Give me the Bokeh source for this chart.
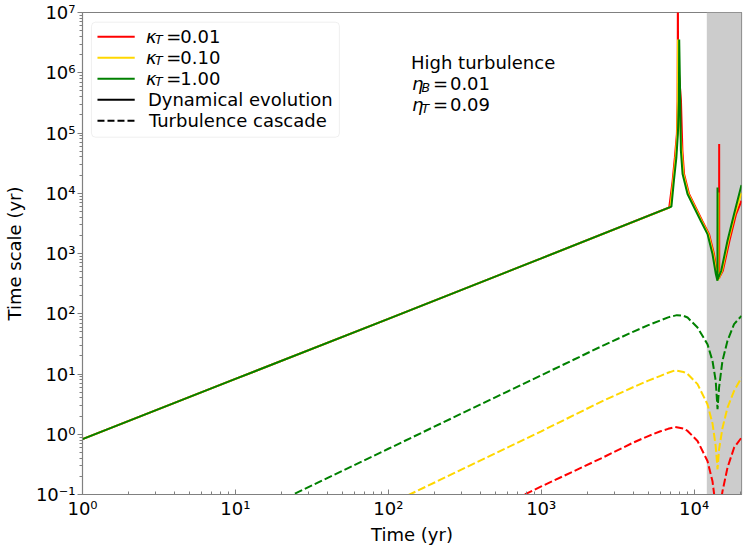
from math import log10
from bokeh.plotting import figure
from bokeh.models import BoxAnnotation, FixedTicker
from bokeh.core.properties import value
from bokeh.embed import file_html
from bokeh.resources import INLINE

# ---------------- data ----------------
kappa_labels = ["0.01", "0.10", "1.00"]
colors = ["red", "gold", "green"]

# Dynamical evolution time scale (solid lines)
t_dyn_red = [1, 10, 100, 1000, 6870, 7230, 7480, 7710, 7790, 7815, 7825, 7840, 7950,
             8200, 8380, 8590, 9260, 10230, 11310, 12510, 13480, 14180, 14500, 14560,
             14575, 14590, 15400, 17020, 18800, 20400]
dyn_red = [0.83, 8.3, 82, 830, 5800, 16100, 39300, 96200, 3.4e5, 3e6, 1e8, 3e6, 1e6,
           3.44e5, 50800, 20800, 9700, 5810, 3470, 2100, 977, 455, 420, 380,
           65600, 400, 516, 1625, 4510, 7520]

t_dyn_gold = [1, 10, 100, 1000, 7000, 7300, 7560, 7760, 7810, 7830, 7880, 8290, 8500,
              9160, 10120, 11190, 12380, 13340, 14030, 14380, 14390, 14400, 15200,
              16720, 18460, 20400]
dyn_gold = [0.83, 8.3, 82, 830, 5900, 16100, 38900, 97800, 3.44e5, 3.55e6, 3.44e5, 50800,
            20800, 9700, 5810, 3470, 2100, 977, 455, 360, 10300, 380, 516,
            1625, 4510, 10200]

t_dyn_green = [1, 10, 100, 1000, 7100, 7370, 7650, 7830, 7945, 7985, 8110, 8190, 8400,
               9050, 10000, 11060, 12230, 13180, 13860, 14200, 14215, 14230, 15030,
               16520, 18240, 20400]
dyn_green = [0.83, 8.3, 82, 830, 6000, 16100, 38900, 97800, 3.44e5, 3.55e6, 3.44e5, 50800,
             20800, 9700, 5810, 3470, 2100, 977, 455, 352, 12500, 370, 516,
             1625, 4510, 13700]

# Turbulence cascade time scale (dashed lines)
t_turb_red = [500, 1000, 2512, 3981, 5012, 6026, 6761, 7499, 8511, 9057, 10520, 12220,
              13180, 13840, 14220, 14550, 15310, 16520, 18240, 20400]
turb_red = [0.058, 0.136, 0.407, 0.724, 0.933, 1.12, 1.23, 1.32, 1.245, 1.135, 0.774, 0.36,
            0.166, 0.063, 0.025, 0.05, 0.112, 0.279, 0.598, 0.879]

t_turb_gold = [100, 1000, 2512, 3981, 5012, 6026, 6761, 7499, 8511, 9057, 10520, 12220,
               13180, 13840, 14220, 14550, 15310, 16520, 18240, 20400]
turb_gold = [0.0676, 1.12, 3.55, 6.03, 7.76, 9.33, 10.5, 11.5, 10.8, 10.0, 6.78, 3.15,
             1.51, 0.63, 0.262, 0.56, 1.26, 2.77, 5.24, 8.71]

t_turb_green = [10, 100, 1000, 2512, 3981, 5012, 6026, 6761, 7709, 8511, 9057, 10520,
                12220, 13180, 13840, 14220, 14550, 15310, 16520, 18240, 20400]
turb_green = [0.0346, 0.574, 9.53, 29.3, 50.1, 64.6, 77.6, 87.1, 94.8, 92.3, 86.5, 59.0,
              31.3, 16.5, 7.67, 2.6, 5.94, 16.5, 35.5, 67.1, 92.3]

shade_start = 1.21e4          # start of grey shaded interval (yr)

x_ticks = [1, 10, 100, 1000, 10000]
x_tick_labels = ["10\u2070", "10\u00b9", "10\u00b2", "10\u00b3", "10\u2074"]
y_ticks = [0.1, 1, 10, 100, 1000, 1e4, 1e5, 1e6, 1e7]
y_tick_labels = ["10\u207b\u00b9", "10\u2070", "10\u00b9", "10\u00b2", "10\u00b3",
                 "10\u2074", "10\u2075", "10\u2076", "10\u2077"]

X_MIN, X_MAX = 1, 20400
Y_MIN, Y_MAX = 0.1, 1e7

# ---------------- figure ----------------
FONT = "DejaVu Sans"
W, H = 746, 548
ML, MR, MT, MB = 81, 5, 12, 54

p = figure(width=W, height=H, x_axis_type="log", y_axis_type="log",
           x_range=(X_MIN, X_MAX), y_range=(Y_MIN, Y_MAX),
           output_backend="svg", toolbar_location=None,
           min_border_left=ML, min_border_right=MR,
           min_border_top=MT, min_border_bottom=MB)
p.grid.visible = False
p.background_fill_color = "white"
p.border_fill_color = "white"
p.outline_line_color = "#808080"
p.outline_line_width = 1.2

# canvas-pixel -> data helpers for annotation placement
FX0, FX1 = ML, W - MR
FY0, FY1 = MT, H - MB
LX0, LX1 = log10(X_MIN), log10(X_MAX)
LY0, LY1 = log10(Y_MIN), log10(Y_MAX)


def px2x(px):
    return 10 ** (LX0 + (px - FX0) / (FX1 - FX0) * (LX1 - LX0))


def py2y(py):
    return 10 ** (LY1 - (py - FY0) / (FY1 - FY0) * (LY1 - LY0))


# grey shaded interval
p.add_layout(BoxAnnotation(left=shade_start, fill_color="#cccccc", fill_alpha=1.0,
                           line_alpha=0, level="underlay"))

# dashed turbulence lines
for t, v, c in [(t_turb_red, turb_red, "red"), (t_turb_gold, turb_gold, "gold"),
                (t_turb_green, turb_green, "green")]:
    p.line(t, v, line_color=c, line_width=2, line_dash="8 3")

# solid dynamical lines
for t, v, c in [(t_dyn_red, dyn_red, "red"), (t_dyn_gold, dyn_gold, "gold"),
                (t_dyn_green, dyn_green, "green")]:
    p.line(t, v, line_color=c, line_width=2)

# axes
for ax, ticks, labels, lo, hi in [(p.xaxis[0], x_ticks, x_tick_labels, X_MIN, X_MAX),
                                  (p.yaxis[0], y_ticks, y_tick_labels, Y_MIN, Y_MAX)]:
    minors = []
    for d in range(int(log10(lo)) - 1, int(log10(hi)) + 1):
        for k in range(2, 10):
            m = k * 10.0 ** d
            if lo < m < hi:
                minors.append(m)
    ax.ticker = FixedTicker(ticks=ticks, minor_ticks=minors)
    ax.major_label_overrides = dict(zip(ticks, labels))
    ax.axis_line_color = "#808080"
    ax.major_tick_line_color = "#808080"
    ax.minor_tick_line_color = "#808080"
    ax.major_label_text_font = FONT
    ax.major_label_text_font_size = "18px"
    ax.major_label_text_color = "black"
    ax.axis_label_text_font = FONT
    ax.axis_label_text_font_size = "18px"
    ax.axis_label_text_font_style = "normal"
    ax.axis_label_text_color = "black"
    ax.major_label_text_line_height = 1.0
    ax.axis_label_text_line_height = 1.0

p.xaxis.axis_label = "Time (yr)"
p.yaxis.axis_label = "Time scale (yr)"
p.xaxis.major_tick_in = 5
p.xaxis.major_tick_out = 0
p.xaxis.minor_tick_in = 3
p.xaxis.minor_tick_out = 0
p.xaxis.major_label_standoff = 3
p.xaxis.axis_label_standoff = 2
p.yaxis.major_tick_in = 0
p.yaxis.major_tick_out = 5
p.yaxis.minor_tick_in = 0
p.yaxis.minor_tick_out = 3
p.yaxis.major_label_standoff = 2
p.yaxis.axis_label_standoff = 8

# ---------------- legend (drawn by hand to get the subscripts) ----------------
p.add_layout(BoxAnnotation(left=px2x(90), right=px2x(338.3), top=py2y(21.7), bottom=py2y(136.7),
                           fill_color="white", fill_alpha=0.8, line_color="#cccccc",
                           line_width=1, border_radius=4, level="annotation"))

row_base = [42.7, 63.7, 84.7, 105.7, 126.7]
handle_colors = colors + ["black", "black"]
handle_dash = ["solid", "solid", "solid", "solid", "7 3"]
for b, c, d in zip(row_base, handle_colors, handle_dash):
    p.segment(x0=[px2x(96)], y0=[py2y(b - 6.5)], x1=[px2x(133.3)], y1=[py2y(b - 6.5)],
              line_color=c, line_width=2, line_dash=d, level="overlay")

txt_kw = dict(text_font=value(FONT), text_align="left", text_baseline="alphabetic",
              text_color="black", level="overlay")
TS = 7  # measured offset between requested and rendered text baseline

kb = [b - TS for b in row_base[:3]]
p.text(x=[px2x(144.5)] * 3, y=[py2y(b) for b in kb], text=["\u03ba"] * 3,
       text_font_size="18px", text_font_style="italic", **txt_kw)
p.text(x=[px2x(153.5)] * 3, y=[py2y(b + 3.5) for b in kb], text=["T"] * 3,
       text_font_size="12.5px", text_font_style="italic", **txt_kw)
p.text(x=[px2x(165)] * 3, y=[py2y(b) for b in kb], text=["="] * 3,
       text_font_size="18px", **txt_kw)
p.text(x=[px2x(179)] * 3, y=[py2y(b) for b in kb], text=kappa_labels,
       text_font_size="18px", **txt_kw)
p.text(x=[px2x(146.5), px2x(147.5)], y=[py2y(row_base[3] - TS), py2y(row_base[4] - TS)],
       text=["Dynamical evolution", "Turbulence cascade"], text_font_size="18px", **txt_kw)

# ---------------- annotation ----------------
ann_base = [69.3 - TS, 90.3 - TS, 111.0 - TS]
p.text(x=[px2x(410)], y=[py2y(ann_base[0])], text=["High turbulence"],
       text_font_size="18px", **txt_kw)
p.text(x=[px2x(411)] * 2, y=[py2y(b) for b in ann_base[1:]], text=["\u03b7", "\u03b7"],
       text_font_size="18px", text_font_style="italic", **txt_kw)
p.text(x=[px2x(420.5)] * 2, y=[py2y(b + 3.5) for b in ann_base[1:]], text=["B", "T"],
       text_font_size="12.5px", text_font_style="italic", **txt_kw)
p.text(x=[px2x(432)] * 2, y=[py2y(b) for b in ann_base[1:]], text=["=", "="],
       text_font_size="18px", **txt_kw)
p.text(x=[px2x(449)] * 2, y=[py2y(b) for b in ann_base[1:]], text=["0.01", "0.09"],
       text_font_size="18px", **txt_kw)

open("out.html", "w").write(file_html(p, INLINE))
